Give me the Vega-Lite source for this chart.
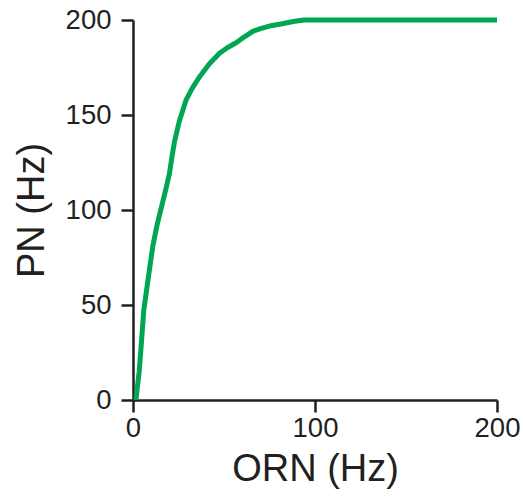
{
  "$schema": "https://vega.github.io/schema/vega-lite/v6.json",
  "width": 364,
  "height": 380,
  "autosize": "none",
  "padding": {"left": 133, "top": 20, "right": 26, "bottom": 97},
  "background": "white",
  "config": {
    "view": {"stroke": null},
    "axis": {
      "grid": false,
      "domainColor": "#231f20",
      "domainWidth": 2.5,
      "tickColor": "#231f20",
      "tickWidth": 2.5,
      "tickSize": 12,
      "labelFont": "Liberation Sans",
      "labelFontSize": 27.5,
      "labelColor": "#231f20",
      "titleFont": "Liberation Sans",
      "titleFontSize": 38,
      "titleFontWeight": "normal",
      "titleColor": "#231f20"
    }
  },
  "data": {
    "values": [
      {"orn": 1.6, "pn": 0},
      {"orn": 3.4, "pn": 15},
      {"orn": 4.6, "pn": 30},
      {"orn": 5.9, "pn": 47},
      {"orn": 8.2, "pn": 63},
      {"orn": 10.9, "pn": 81},
      {"orn": 13.2, "pn": 92},
      {"orn": 15.5, "pn": 101},
      {"orn": 17.8, "pn": 110},
      {"orn": 20, "pn": 119},
      {"orn": 21.4, "pn": 128},
      {"orn": 22.8, "pn": 136},
      {"orn": 25.5, "pn": 147},
      {"orn": 27.2, "pn": 152},
      {"orn": 29.2, "pn": 158},
      {"orn": 32.5, "pn": 164},
      {"orn": 36.5, "pn": 170},
      {"orn": 42, "pn": 177},
      {"orn": 47.5, "pn": 182.5},
      {"orn": 52, "pn": 185.5},
      {"orn": 56.7, "pn": 188},
      {"orn": 61, "pn": 191},
      {"orn": 65.8, "pn": 194},
      {"orn": 70, "pn": 195.5},
      {"orn": 75, "pn": 196.8},
      {"orn": 82, "pn": 198},
      {"orn": 88, "pn": 199.2},
      {"orn": 94, "pn": 200},
      {"orn": 200, "pn": 200}
    ]
  },
  "mark": {"type": "line", "color": "#00a651", "strokeWidth": 5, "strokeJoin": "round", "strokeCap": "butt"},
  "encoding": {
    "x": {
      "field": "orn", "type": "quantitative",
      "scale": {"domain": [0, 200], "nice": false},
      "axis": {"values": [0, 100, 200], "title": "ORN (Hz)", "labelPadding": 2, "titlePadding": 9, "labelFlush": false}
    },
    "y": {
      "field": "pn", "type": "quantitative",
      "scale": {"domain": [0, 200], "nice": false},
      "axis": {"values": [0, 50, 100, 150, 200], "title": "PN (Hz)", "labelPadding": 10, "titlePadding": 14, "labelFlush": false}
    }
  }
}
